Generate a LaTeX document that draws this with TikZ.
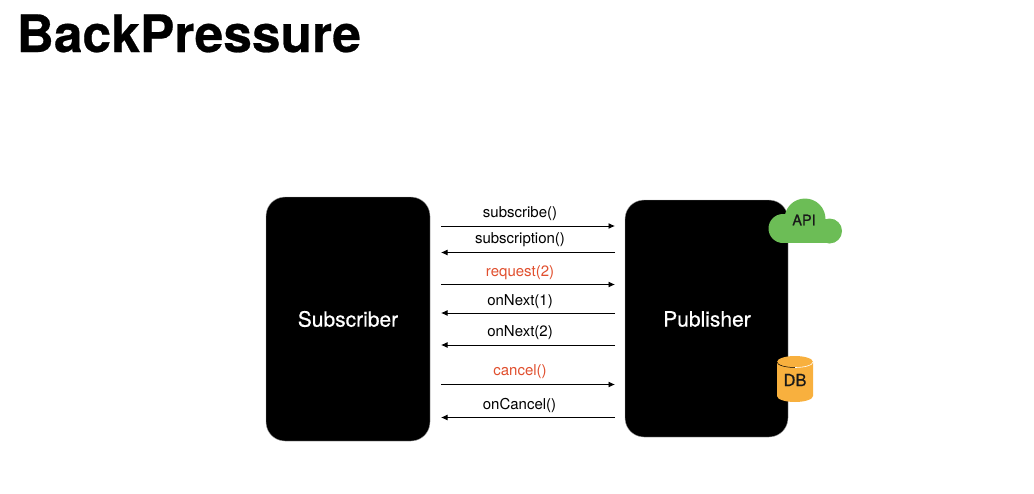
\documentclass[tikz,border=0pt]{standalone}
\usepackage{fontspec}
\setmainfont{TeX Gyre Heros}
\newfontfamily\midfont[FakeBold=0.6]{TeX Gyre Heros}
\newfontfamily\heavyfont[FakeBold=0.5]{TeX Gyre Heros Bold}
\usetikzlibrary{arrows.meta}
\definecolor{callred}{HTML}{E04F2E}
\definecolor{apigreen}{HTML}{6CBD56}
\definecolor{dborange}{HTML}{F8B03E}
\tikzset{
  actor/.style={draw=black!35,line width=.4pt,fill=black,rounded corners=19pt,inner sep=0pt},
  actorname/.style={text=white,inner sep=0pt,font=\midfont\fontsize{21}{24}\selectfont},
  call/.style={font=\fontsize{15}{18}\selectfont,inner sep=0pt,anchor=base,text=black},
  cancelcall/.style={call,text=callred},
  msg/.style={draw=black,line width=.9pt,-{Latex[length=6.5pt,width=6pt]}},
  badge/.style={font=\midfont\fontsize{14.5}{18}\selectfont,inner sep=0pt,text=black!90},
}
\begin{document}
\begin{tikzpicture}[x=1pt,y=-1pt]
\useasboundingbox (0,0) rectangle (1034,493);
\node[anchor=base west,inner sep=0,font=\heavyfont\fontsize{51.5}{60}\selectfont] (title) at (16.5,52) {BackPressure};
\node[actor,minimum width=164pt,minimum height=244pt] (sub) at (348,319) {};
\node[actor,minimum width=163pt,minimum height=237pt] (pub) at (706.5,318.5) {};
\node[actorname] (subl) at (348,319) {Subscriber};
\node[actorname] (publ) at (707,319) {Publisher};
% cloud
\fill[apigreen] (783,228.5) circle (14.5) (805,219) circle (20.5) (829.5,231) circle (12.5);
\fill[apigreen] (783,222) rectangle (829.5,243);
\node[badge] (api) at (804,220) {API};
% database
\fill[dborange] (777,362) -- (777,396) arc[start angle=180,end angle=0,x radius=18,y radius=6] -- (813,362) arc[start angle=0,end angle=-180,x radius=18,y radius=6] -- cycle;
\draw[black,line width=.5pt] (777,362) arc[start angle=180,end angle=90,x radius=18,y radius=5.5];
\draw[white,line width=.6pt] (795,367.5) arc[start angle=90,end angle=0,x radius=18,y radius=5.5];
\node[badge,font=\midfont\fontsize{16.5}{20}\selectfont] (db) at (795,380) {DB};
% connector ends
\foreach \n/\y in {a/226,b/252.5,c/284.5,d/313,e/345,f/384.5,g/417.5}{
  \coordinate (l\n) at (441,\y);
  \coordinate (r\n) at (615,\y);
}
\draw[msg] (la) -- (ra);
\draw[msg] (rb) -- (lb);
\draw[msg] (lc) -- (rc);
\draw[msg] (rd) -- (ld);
\draw[msg] (re) -- (le);
\draw[msg] (lf) -- (rf);
\draw[msg] (rg) -- (lg);
\node[call] (ta) at (520,217) {subscribe()};
\node[call] (tb) at (520,243) {subscription()};
\node[cancelcall] (tc) at (520,276) {request(2)};
\node[call] (td) at (520,305) {onNext(1)};
\node[call] (te) at (520,336.5) {onNext(2)};
\node[cancelcall] (tf) at (520,375.5) {cancel()};
\node[call] (tg) at (519.5,409) {onCancel()};
\end{tikzpicture}
\end{document}
